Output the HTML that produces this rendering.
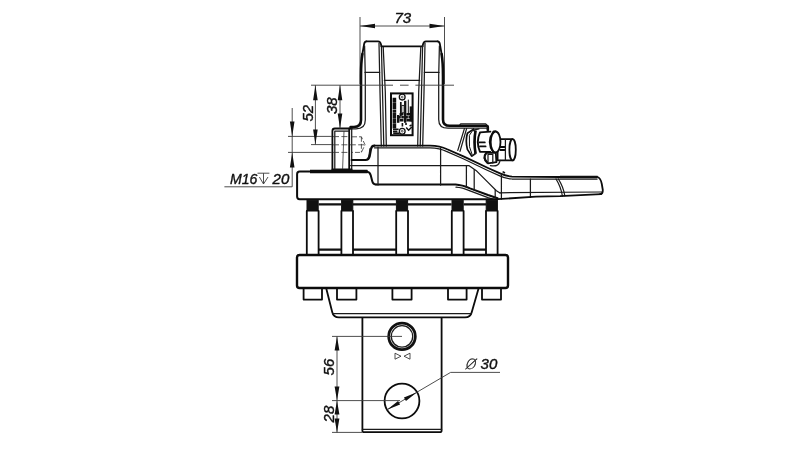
<!DOCTYPE html>
<html><head><meta charset="utf-8"><title>Rotator drawing</title>
<style>
html,body{margin:0;padding:0;background:#fff;}
body{width:800px;height:450px;overflow:hidden;}
svg{display:block;filter:grayscale(1);}
.t{font-family:"Liberation Sans",sans-serif;font-style:italic;font-size:15px;fill:#111;stroke:#111;stroke-width:0.4;stroke-linejoin:round;}
.o{font-family:"DejaVu Sans Light","DejaVu Sans",sans-serif;font-style:italic;font-size:14px;fill:#222;stroke:#222;stroke-width:0.3;}
.k{stroke:#0c0c0c;fill:none;stroke-width:1.8;stroke-linejoin:round;stroke-linecap:round;}
.m{stroke:#1a1a1a;fill:none;stroke-width:1.25;stroke-linejoin:round;stroke-linecap:round;}
.n{stroke:#333;fill:none;stroke-width:0.8;}
.d{stroke:#3a3a3a;fill:none;stroke-width:0.9;}
.w{fill:#fff;}
.a{fill:#111;stroke:none;}
.b{fill:#111;stroke:#111;stroke-width:1;}
</style></head>
<body>
<svg width="800" height="450" viewBox="0 0 800 450">
<rect width="800" height="450" fill="#fff"/>

<!-- ===== dimension 73 ===== -->
<g id="dim73">
<path class="d" d="M360 17V84M444.5 17V84M360 26H444.5"/>
<path class="a" d="M360 26l15-2.3v4.6zM444.5 26l-15-2.3v4.6z"/>
<text class="t" x="394.4" y="23.3">73</text>
</g>

<!-- ===== top bracket ===== -->
<g id="bracket">
<path class="k" d="M366.4 41.3H378Q380.4 41.3 381 44.4L381.4 46.3"/>
<path class="k" d="M366.4 41.3Q364.4 41.3 364 44.6L362.4 54"/>
<path d="M362.4 54Q361 62 361 76V120Q361 127 354 127H350.6" stroke="#0c0c0c" stroke-width="2.6" fill="none" stroke-linecap="round"/>
<path class="m" d="M364.6 46L365.3 76V120Q365.3 128.8 356 128.8H350.6"/>
<path class="m" d="M379 43L380 92L381.3 146"/>
<path class="m" d="M381.4 46L382.5 92L383.8 146M383.2 47L385.3 92L386.3 146"/>
<path class="m" d="M365 72.4H379.6M424.4 72.4H439"/>
<path class="k" d="M381.6 46.3H422.4"/>
<path class="m" d="M384.4 80.4H419.6"/>
<path class="k" d="M437.6 41.3H426Q423.6 41.3 423 44.4L422.6 46.3"/>
<path class="k" d="M437.6 41.3Q439.6 41.3 440 44.6L441.6 54"/>
<path d="M441.6 54Q443 62 443 76V119.4Q443 125.8 449.6 125.8H486.6Q487.8 125.8 487.8 127.4V130" stroke="#0c0c0c" stroke-width="2.6" fill="none" stroke-linecap="round" stroke-linejoin="round"/>
<path class="m" d="M439.4 46L438.7 76V119.4Q438.7 128.2 448 128.2H487"/>
<path class="m" d="M460 124.6L461 123.8H485.4L486.4 124.6"/>
<path class="m" d="M425 43L424 92L422.7 146"/>
<path class="m" d="M422.6 46L421.5 92L420.2 146M420.8 47L418.7 92L417.7 146"/>
</g>

<!-- centerline -->
<path class="d" d="M311 85.2H393M400 85.2H408.6M415.4 85.2H454"/>

<!-- nameplate -->
<g id="plate">
<rect x="391" y="93.4" width="21.6" height="41.8" fill="#fff" stroke="#0c0c0c" stroke-width="2"/>
<path d="M394.4 97.8V128.6" stroke="#111" stroke-width="3.6" stroke-dasharray="4.4 0.3 6.6 0.3 3.4 0.3 5.4 0.3"/>
<path d="M393 129.2H398.6M393 131.4H397.4M393.2 133.2H399.6" stroke="#111" stroke-width="1.6"/>
<path d="M398.2 115V122.8" stroke="#111" stroke-width="2.4"/>
<path d="M400.8 102V116" stroke="#111" stroke-width="1.7"/>
<path d="M405.2 100.8V122.8" stroke="#111" stroke-width="2.3"/>
<path d="M408.3 99.6V113.6" stroke="#111" stroke-width="1"/>
<path d="M411 106.4V121.6" stroke="#111" stroke-width="2.6"/>
<path d="M399.6 114.2H412.2M397.2 117.2H412.2M399.6 120.2H412.2" stroke="#111" stroke-width="2.4" stroke-dasharray="3.6 0.5 2.6 0.4"/>
<path d="M402.4 123V126.4M406 123V125" stroke="#111" stroke-width="1.6"/>
<rect x="401.8" y="105.4" width="2.3" height="7.4" fill="#fff" stroke="#111" stroke-width="0.9"/>
<path d="M406.2 127.6l2.4 2.6 3.2-3.2M409.6 126.2l2 -1.4" stroke="#111" stroke-width="1.5" fill="none"/>
<circle cx="402.2" cy="97.1" r="2.9" fill="#fff" stroke="#111" stroke-width="1.3"/><circle cx="402.2" cy="97.1" r="0.9" class="n"/>
<circle cx="402.2" cy="131.2" r="2.9" fill="#fff" stroke="#111" stroke-width="1.3"/><circle cx="402.2" cy="131.2" r="0.9" class="n"/>
</g>

<!-- ===== threaded boss (left block) ===== -->
<g id="boss">
<path class="k" d="M332.4 170V131Q332.4 128.5 334.8 128.5H351.6"/>
<path class="k" d="M349.2 128.5V170"/>
<path class="m" d="M351.7 128.5V170"/>
<path class="k" d="M332.4 169.4H351.6"/>
<path class="m" d="M334.8 131V169M334.8 131H349" />
<path class="n" d="M344 131L342.6 169" stroke="#444"/>
<path class="k" d="M351.7 160H365.6Q368.8 160 369.6 156.6L371 149Q371.6 145.6 374.4 145.6" style="stroke-width:2.2"/>
<path class="m" d="M367.6 158.4Q368.6 157.6 369.2 154L370 148.6"/>
<path class="n" d="M352 136.8H361.4L365 144.8L361.4 152.4H352M361.4 136.8V152.4" stroke="#a0a0a0" stroke-dasharray="5 2"/>
</g>

<!-- dims 52 / 38 / M16 -->
<g id="dimsL">
<path class="d" d="M288 136.4H332M311 144.6H332M288 152.4H332"/>
<path class="n" d="M333 136.6H349M333 144.8H364M333 152.4H349" stroke="#999" stroke-dasharray="6 2.4"/>
<path class="d" d="M315.4 85.2V144.6M340 85.2V128.6M292.2 108V186.8H224.4"/>
<path class="a" d="M315.4 85.2l-2.3 15h4.6zM315.4 144.6l-2.3-15h4.6zM340 85.2l-2.3 15h4.6zM340 128.6l-2.3-15h4.6zM292.2 136.4l-2.3-15h4.6zM292.2 152.4l-2.3 15h4.6z"/>
<text class="t" transform="translate(312.5 121.6) rotate(-90)">52</text>
<text class="t" transform="translate(337.1 114) rotate(-90)">38</text>
<text class="t" x="230" y="183.8" textLength="27.4" lengthAdjust="spacingAndGlyphs">M16</text>
<path class="d" d="M257.5 173.2H269.4M259.4 177L263.5 184L268 177M263.5 173.2V184" stroke="#222" stroke-width="0.9"/>
<text class="t" x="272.6" y="183.9">20</text>
</g>

<!-- ===== body / upper housing ===== -->
<g id="body">
<path class="k" d="M374.4 145.6H430Q440 145.8 447.2 149.2L464 156.6L488 168L500 173.4Q506 176.2 512 176.6L560 177"/>
<path d="M560 177H597.6" stroke="#111" stroke-width="2.6" fill="none"/>
<path class="k" d="M597.6 177Q600.6 178 601.8 184L602.8 190Q603 194 600 194.2"/>
<path class="m" d="M374.4 147.8H430Q440 148 446.4 151.4L463.2 158.8L487.2 170.2L499.2 175.6Q505 178.6 512 179L597 179.2"/>
<path class="m" d="M350.6 165.6H468.8L476 170.4L488 182.4L496.4 190.8L500 193"/>
<path class="k" d="M376 184.6H455.6Q462 185 470 188.4L488 195L497.6 198.2" style="stroke-width:2"/>
<path class="m" d="M456 187.2Q462 187.6 470 190.8L488 197.6L494 199.4"/>
<path class="m" d="M378 147V185M440.6 148.4V185M466.4 165.6V187.2M474.2 169.6V190M495.2 190V197.6M501.4 174.4V199M530.4 179V197.4"/>
<path class="m" d="M556 179Q561 187 562.4 196M558.4 179Q563.4 187 564.8 195.6"/>
<path class="m" d="M500 192.8L602 192"/>
<path class="k" d="M497.6 199.2L536 196.6L560 196.2L601 194.2"/>
<path d="M502.6 171.6l2.4 1.4" stroke="#111" stroke-width="1.6"/>
</g>

<!-- fitting -->
<g id="fitting">
<path class="m" d="M464.4 128.6L457.8 150.4M466.6 128.6L460 151.4"/>
<path d="M474.4 128.6L467.4 133.2Q465.2 141 467.4 149.4L472 156.6" stroke="#0c0c0c" stroke-width="1.7" fill="#fff" stroke-linejoin="round"/>
<path class="k w" d="M469.6 135L472.6 130.6L475 131V153L472.4 155.4L469.6 147Z" style="stroke-width:1"/>
<path class="m" d="M472.6 130.4L479 128.8M472.4 156L476 153.4"/>
<path d="M475.6 130.6Q473.4 142 475.6 153.6" stroke="#0c0c0c" stroke-width="2.6" fill="none"/>
<path fill="#fff" stroke="none" d="M479.6 132.6L490.4 131.6V152H479.6Z"/>
<path d="M480 132.4Q475.6 142 480 151.8" stroke="#0c0c0c" stroke-width="1.9" fill="none"/>
<path class="k" d="M480 132.4L490.4 131.6M480 151.8H490.4"/>
<path class="k" d="M479.4 142.4H484.8M480 146.4H485.6"/>
<path class="k w" d="M501 139.2H512.6V160.4H497.6V150"/>
<path class="k" d="M500.4 150H504.6M500.4 147H504.6"/>
<path class="m" d="M505.4 139.6V160"/>
<ellipse cx="512.6" cy="149.8" rx="3.2" ry="10.6" class="k w"/>
<path class="k w" d="M495.6 131.5H493.4Q486 142 493.4 152.5H495.6"/>
<ellipse cx="495.6" cy="142" rx="4.9" ry="10.5" class="k w"/>
<path class="k w" d="M486.2 152.8Q481.6 158 488 163.4L496.4 162.2L495.8 152.8Z"/>
<path d="M486.4 153Q482.4 158 487.6 163" stroke="#111" stroke-width="2" fill="none"/>
<path class="m" d="M488 154.4V162.8M488 154.4H492.8M492.8 154.4V163"/>
<path class="m" d="M490.4 165.6Q498 167.2 499.6 162L500 160.4"/>
</g>

<!-- ===== upper flange ===== -->
<g id="flangeU">
<path d="M368 171.6H299.6Q297.1 171.6 297.1 174.2V196.6Q297.1 199.2 299.6 199.2H497.4" stroke="#0c0c0c" stroke-width="2" fill="none" stroke-linejoin="round"/>
<path d="M310 171.5H367.4" stroke="#0c0c0c" stroke-width="3.6" fill="none"/>
<path d="M367 171.8Q370 172.2 370.8 175.4L372.2 181Q373 184.6 376.4 184.6" stroke="#0c0c0c" stroke-width="2" fill="none"/>
</g>

<!-- ===== bolts / columns ===== -->
<g id="bolts">
<path d="M318.6 204.4H341M353 204.4H396M408 204.4H451.6M463.6 204.4H486" stroke="#111" stroke-width="2.4" fill="none"/>
<path d="M318.6 249.6H341M353 249.6H396M408 249.6H451.6M463.6 249.6H486" stroke="#111" stroke-width="2.2" fill="none"/>
<rect class="b" x="307" y="200.4" width="11.2" height="10.6"/>
<rect class="b" x="341.6" y="200.4" width="11.2" height="10.6"/>
<rect class="b" x="396.4" y="200.4" width="11.2" height="10.6"/>
<rect class="b" x="452" y="200.4" width="11.2" height="10.6"/>
<rect class="b" x="486.2" y="200.4" width="11.2" height="10.6"/>
<path class="k" d="M306.8 211V255M318.6 211V255M341.4 211V255M353 211V255M396.2 211V255M408 211V255M451.8 211V255M463.6 211V255M486 211V255M497.6 211V255"/>
</g>

<!-- ===== lower flange ===== -->
<g id="flangeL">
<rect x="297" y="255" width="211" height="33" rx="2.6" ry="2.6" fill="#fff" stroke="#0c0c0c" stroke-width="2.4"/>
<path class="k" d="M303.6 289V299.6H322V289M337 289V299.6H356.4V289M392.4 289V299.6H411.6V289M448 289V299.6H466.6V289M482 289V299.6H501V289"/>
<path class="k" d="M326.4 289L332.2 312Q333.4 317.4 339 317.4H465Q470.6 317.4 471.8 312L478.4 289"/>
<path class="m" d="M332.6 313.6H471.4"/>
</g>

<!-- ===== shaft ===== -->
<g id="shaft">
<path class="k" d="M362.4 318V430.4Q362.4 432.2 364.2 432.2H439.8Q441.6 432.2 441.6 430.4V318"/>
<path class="m" d="M362.4 429.4H441.6"/>
<circle cx="402" cy="336.4" r="13.3" fill="none" stroke="#111" stroke-width="2.8"/>
<circle cx="402" cy="336.4" r="10.7" class="m"/>
<path class="d" d="M395 353.2V359.2L401 356.2ZM410 353.2V359.2L404 356.2Z"/>
<circle cx="402" cy="401" r="17.4" class="k"/>
</g>

<!-- ===== dims 56 / 28 / dia 30 ===== -->
<g id="dimsB">
<path class="d" d="M332 336.4H402M332 400.6H400M332 432.4H362M337 336.4V432.4"/>
<path class="a" d="M337 336.4l-2.4 14h4.8zM337 400.6l-2.4-14h4.8zM337 400.6l-2.4 14h4.8zM337 432.4l-2.4-14h4.8z"/>
<text class="t" transform="translate(334.4 375.4) rotate(-90)">56</text>
<text class="t" transform="translate(334.4 422.4) rotate(-90)">28</text>
<path class="d" d="M500 372.4H450.6L387 409.8"/>
<path class="a" d="M417 392.2L405.95 401L403.92 397.55ZM387 409.8L400.08 404.45L398.05 401Z"/>
<text class="o" x="464.6" y="368.9">Ø</text>
<text class="t" x="480.6" y="369.2">30</text>
</g>
</svg>
</body></html>
